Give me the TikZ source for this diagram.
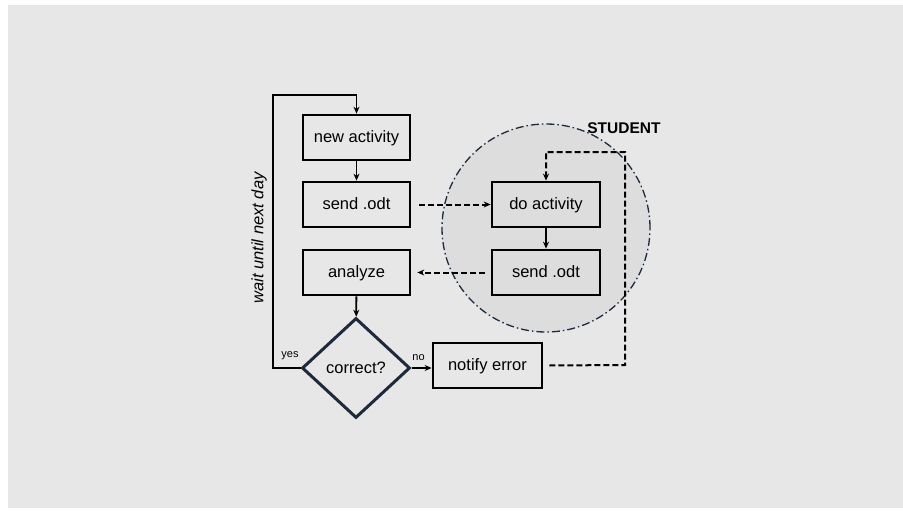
\documentclass[tikz,border=0pt]{standalone}
\usepackage{fontspec}
\setmainfont{Liberation Sans}
\usetikzlibrary{shapes.geometric,arrows.meta}
\definecolor{bgcol}{HTML}{E7E7E7}
\definecolor{circcol}{HTML}{DDDDDD}
\definecolor{navy}{HTML}{1C2A3C}
\tikzset{
  boxtext/.style={font=\fontsize{16.5}{19}\selectfont, text height=11.5pt, text depth=1.5pt},
  stepbox/.style={draw=black, line width=2.7pt, minimum width=107pt, minimum height=45pt, inner sep=0pt, boxtext},
  decision/.style={draw=navy, line width=3pt, diamond, minimum width=108pt, minimum height=100pt, inner sep=0pt, boxtext},
  flow/.style={line width=1.8pt, -{Stealth[length=7pt,width=6pt]}},
  dflow/.style={line width=2pt, dash pattern=on 6pt off 3pt, -{Stealth[length=7pt,width=6pt]}},
  small/.style={font=\fontsize{11}{13}\selectfont}
}
\begin{document}
\begin{tikzpicture}[x=1pt,y=-1pt]
  \useasboundingbox (0,0) rectangle (903,511);
  \fill[bgcol] (8,5) rectangle (903,508);
  % student region
  \node[circle, fill=circcol, draw=navy, line width=1.3pt, dash pattern=on 8pt off 3pt on 1.5pt off 3pt, minimum size=208pt] (student) at (546,228) {};
  \node[font=\bfseries\fontsize{15.5}{18}\selectfont] (studentlbl) at (624,128) {STUDENT};
  % teacher side
  \node[stepbox] (new) at (356.5,137.5) {new activity};
  \node[stepbox] (send) at (356.5,204.5) {send .odt};
  \node[stepbox] (analyze) at (356.5,272.5) {analyze};
  \node[decision] (check) at (356,368) {correct?};
  \node[stepbox, minimum width=109pt] (notify) at (487.5,365.5) {notify error};
  % student side
  \node[stepbox, minimum width=108pt] (doact) at (546,204.5) {do activity};
  \node[stepbox, minimum width=108pt] (sendback) at (546,272.5) {send .odt};
  % solid flow
  \draw[flow] (new) -- (send);
  \draw[flow] (analyze) -- (check);
  \draw[flow] (doact) -- (sendback);
  \draw[flow] (check.east) -- (check.east -| notify.west) node[pos=0.35, above=3pt, small] (nolbl) {no};
  \coordinate (loopbl) at (273,368);
  \coordinate (looptl) at (273,95);
  \draw[flow] (check.west) -- (loopbl) -- (looptl) -| (new.north);
  \node[small] (yeslbl) at (290,356) {yes};
  \node[rotate=90, font=\itshape\fontsize{16.5}{19}\selectfont] (wait) at (259,238) {wait until next day};
  % dashed exchanges
  \draw[dflow] ([xshift=8pt]send.east) -- (doact.west);
  \draw[dflow] ([xshift=-6pt]sendback.west) -- ([xshift=6pt]analyze.east);
  \coordinate (retr) at (625,365);
  \coordinate (rettr) at (625,152);
  \draw[dflow] ([xshift=6pt]notify.east) -- (retr) -- (rettr) -| (doact.north);
\end{tikzpicture}
\end{document}
